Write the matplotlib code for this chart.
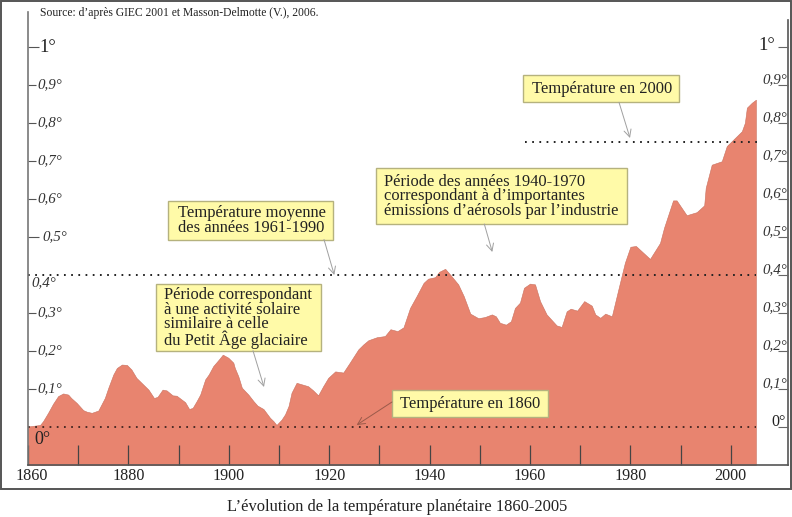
import matplotlib
matplotlib.use("Agg")
import matplotlib.pyplot as plt
from matplotlib.patches import Rectangle
from matplotlib.transforms import ScaledTranslation

plt.rcParams["font.family"] = ["Liberation Serif", "DejaVu Serif"]

# %% Data
years = [1860, 1862.4, 1863, 1864, 1865, 1866, 1867, 1868, 1868.6, 1869.7, 1871, 1871.7, 1872.7, 1874,
         1875.3, 1876, 1877, 1877.7, 1878.7, 1879.7, 1880.6, 1881.6, 1884, 1885.1, 1885.8, 1886.8,
         1887.6, 1888.8, 1889.6, 1891.3, 1892.1, 1892.8, 1893.6, 1894.3, 1895.3, 1896, 1896.9, 1898,
         1898.8, 1899.9, 1900.9, 1901.2, 1901.9, 1902.6, 1903.9, 1904.9, 1905.7, 1906.9, 1908.2,
         1908.9, 1909.5, 1910.5, 1911.2, 1911.9, 1912.5, 1913.5, 1915.8, 1916.8, 1917.8, 1918.8,
         1919.8, 1921.2, 1922.8, 1924.1, 1925.8, 1926.8, 1927.8,
         1929.5, 1931.1, 1932.2, 1933.6, 1934.8, 1936.1, 1937.4, 1938.8, 1939.7, 1941.1, 1941.9,
         1943.1, 1944.2, 1945.7, 1946.8, 1948.1, 1949.7, 1951, 1952.4, 1953.2, 1954, 1955.2,
         1956.2, 1957, 1958, 1958.8, 1960, 1961, 1962, 1963.3, 1965.3, 1966.3, 1967.3, 1968.1,
         1969.4, 1970.8, 1972.3, 1973, 1974, 1975, 1976.3, 1977.6, 1978.9, 1980, 1981.1, 1983.9,
         1985.9, 1986.7, 1988.5, 1989.2, 1991.2, 1993.2, 1994.7, 1995, 1996.2, 1998.2, 1999.2,
         2000.2, 2002.2, 2002.8, 2003.2, 2004.2, 2005]
temps = [0, .004, .014, .036, .06, .08, .087, .084, .075, .062, .043, .039, .036, .042,
         .075, .102, .137, .154, .163, .162, .15, .128, .097, .075, .078, .097,
         .095, .082, .081, .064, .046, .049, .067, .084, .124, .137, .159, .176,
         .189, .181, .168, .154, .132, .102, .084, .067, .055, .046, .023,
         .014, .004, .018, .032, .054, .089, .115, .106, .095, .082, .106,
         .128, .145, .142, .168, .203, .216, .227,
         .235, .238, .256, .251, .261, .312, .343, .378, .389, .393, .407,
         .415, .398, .374, .343, .297, .285, .288, .295, .29, .273, .268,
         .277, .312, .326, .365, .376, .374, .33, .295, .266, .262, .303, .31,
         .305, .33, .318, .295, .286, .297, .29, .361, .431, .473, .475, .441,
         .483, .523, .595, .595, .556, .564, .582, .628, .689, .698, .738,
         .751, .777, .799, .839, .852, .86]

decade_ticks = list(range(1860, 2001, 10))
year_labels = ["1860", "", "1880", "", "1900", "", "1920", "", "1940", "", "1960", "", "1980", "", "2000"]

long_ticks = [.5, 1]
short_ticks = [.1, .2, .3, .6, .7, .8, .9]
right_ticks = [0, .1, .2, .3, .4, .5, .6, .7, .8, .9, 1]
right_labels = ["0°", "0,1°", "0,2°", "0,3°", "0,4°", "0,5°", "0,6°", "0,7°", "0,8°", "0,9°", "1°"]
left_ticks = [0, .1, .2, .3, .4, .5, .6, .7, .8, .9, 1]
left_labels = ["0°", "0,1°", "0,2°", "0,3°", "0,4°", "0,5°", "0,6°", "0,7°", "0,8°", "0,9°", "1°"]

# %% Figure and axes
W, H = 792, 517
fig = plt.figure(figsize=(W / 100, H / 100), dpi=100, facecolor="white")
px_per_year = 5.02
px_per_deg = 380
x0, x1, y_top, y_bottom, y_zero = 28, 788, 12, 465, 426.5
ax = fig.add_axes([x0 / W, 1 - y_bottom / H, (x1 - x0) / W, (y_bottom - y_top) / H])
ax.set_xlim(1860, 1860 + (x1 - x0) / px_per_year)
ax.set_ylim((y_zero - y_bottom) / px_per_deg, (y_zero - y_top) / px_per_deg)

fill_color = "#E8846F"
ax.fill_between(years, temps, ax.get_ylim()[0], color=fill_color, lw=0.4, edgecolor="#C9715F")

# dotted reference lines
dots = (0, (0.9, 2.8))
ax.plot([1860, 2005], [0, 0], color="#4a2a25", lw=1.4, ls=dots)
ax.plot([1860, 2005], [.4, .4], color="#222222", lw=1.4, ls=dots)
ax.plot([1959, 2005.6], [.75, .75], color="#222222", lw=1.4, ls=dots)

# axes lines
ax.spines["top"].set_visible(False)
for side in ["left", "bottom", "right"]:
    ax.spines[side].set_color("#777777")
    ax.spines[side].set_linewidth(1.2)
ax.spines["bottom"].set_color("#555555")
ax.spines["right"].set_color("#555555")
ax.spines["right"].set_bounds(ax.get_ylim()[0], (y_zero - 20) / px_per_deg)

ax.set_xticks(decade_ticks)
ax.set_xticklabels(year_labels, fontsize=11.6, color="#222222")
ax.tick_params(axis="x", direction="in", length=14.4, width=0.9, color="#444444", pad=2)
# first year label sits a bit right of its tick in the original
first = ax.get_xticklabels()[0]
first.set_transform(first.get_transform() + ScaledTranslation(3.5 / 100, 0, fig.dpi_scale_trans))

ax.set_yticks(long_ticks)
ax.set_yticks(short_ticks, minor=True)
ax.set_yticklabels([])
ax.tick_params(axis="y", which="major", direction="in", length=8, width=0.8, color="#555555")
ax.tick_params(axis="y", which="minor", direction="in", length=5.8, width=0.8, color="#555555")

ax_right = ax.twinx()
ax_right.set_ylim(ax.get_ylim())
ax_right.set_yticks(right_ticks)
ax_right.set_yticklabels([])
ax_right.tick_params(axis="y", direction="in", length=7.5, width=0.8, color="#666666")
for spine in ax_right.spines.values():
    spine.set_visible(False)

# %% Y labels, each side placed by hand like the original drawing
trans_left = ax.get_yaxis_transform()
for v, lab in zip(left_ticks, left_labels):
    if v == 0:
        ax.annotate(lab, (0, v), xycoords=trans_left, xytext=(6, -13), textcoords="offset pixels",
                    fontsize=13, color="#222222", va="center")
    elif v == 1:
        ax.annotate(lab, (0, v), xycoords=trans_left, xytext=(11.5, -1), textcoords="offset pixels",
                    fontsize=13.5, color="#222222", va="center")
    else:
        dx, dy = 9, 0
        if v == .5:
            dx = 14
        if v == .4:
            dx, dy = 3, -8
        ax.annotate(lab, (0, v), xycoords=trans_left, xytext=(dx, dy), textcoords="offset pixels",
                    fontsize=10.8, style="italic", color="#333333", va="center")

for v, lab in zip(right_ticks, right_labels):
    if v == 0:
        ax.annotate(lab, (1, v), xycoords=trans_left, xytext=(-2, 0), textcoords="offset pixels",
                    fontsize=11.5, color="#222222", ha="right", va="baseline")
    elif v == 1:
        ax.annotate(lab, (1, v), xycoords=trans_left, xytext=(-13, -3), textcoords="offset pixels",
                    fontsize=13.5, color="#222222", ha="right", va="baseline")
    else:
        ax.annotate(lab, (1, v), xycoords=trans_left, xytext=(-1, 1), textcoords="offset pixels",
                    fontsize=10.8, style="italic", color="#333333", ha="right", va="baseline")

# %% Overlay in picture pixels for frame, boxes, arrows and captions
over = fig.add_axes([0, 0, 1, 1], zorder=5)
over.set_xlim(0, W)
over.set_ylim(H, 0)
over.axis("off")
over.patch.set_alpha(0)

over.add_patch(Rectangle((0.7, 0.5), W - 1.6, 488.5, fill=False, edgecolor="#555555", lw=1.4))

over.text(39.6, 13, "Source: d’après GIEC 2001 et Masson-Delmotte (V.), 2006.", fontsize=8.4,
          color="#222222", va="center")
over.text(397, 507, "L’évolution de la température planétaire 1860-2005", fontsize=11.85,
          color="#222222", ha="center", va="center")

box_face = "#FFFAA8"
box_edge = "#B5B27E"
boxes = [
    (167.5, 201, 165, 38.5, 178, 0.93, "Température moyenne\ndes années 1961-1990"),
    (156.3, 284, 164.7, 66.7, 164.5, 0.87,
     "Période correspondant\nà une activité solaire\nsimilaire à celle\ndu Petit Âge glaciaire"),
    (376, 168, 250.7, 56, 384.5, 0.87,
     "Période des années 1940-1970\ncorrespondant à d’importantes\némissions d’aérosols par l’industrie"),
    (523.3, 75, 156, 27.3, 532.5, 0.8, "Température en 2000"),
    (392, 390, 155.7, 27, 400, 0.8, "Température en 1860"),
]
for bx, by, bw, bh, tx, spacing, label in boxes:
    over.add_patch(Rectangle((bx, by), bw, bh, facecolor=box_face, edgecolor=box_edge, lw=1))
    over.text(tx, by + bh / 2 + 0.5, label, fontsize=11.9, color="#222222", va="center",
              linespacing=spacing)

arrows = [
    ((324, 239.5), (334.3, 275), "#A0A0A0"),
    ((253, 350.7), (264, 387), "#A0A0A0"),
    ((484.3, 224), (492.3, 252), "#A0A0A0"),
    ((619, 102.3), (630, 138), "#A0A0A0"),
    ((392, 402), (356.7, 425), "#9A5A4A"),
]
for start, end, col in arrows:
    over.annotate("", xy=end, xytext=start,
                  arrowprops=dict(arrowstyle="->", color=col, lw=0.7, mutation_scale=13,
                                  shrinkA=0, shrinkB=0))

fig.savefig("out.png", dpi=100)
